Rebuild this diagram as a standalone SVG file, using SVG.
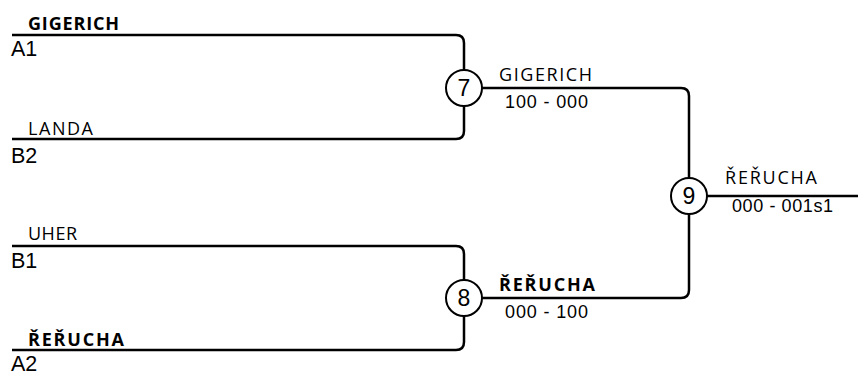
<svg xmlns="http://www.w3.org/2000/svg" width="858" height="377" viewBox="0 0 858 377">
<style>
.ln{fill:none;stroke:#000;stroke-width:2.5;stroke-linejoin:round}
.nd circle{fill:#fff;stroke:#000;stroke-width:2}
.nd text{font-family:"Liberation Sans",Arial,sans-serif;font-size:23px;text-anchor:middle}
.pl{font-family:"Open Sans","Noto Sans",sans-serif;font-size:18px}
.b{font-weight:bold}
.seed{font-family:"Liberation Sans",Arial,sans-serif;font-size:21.5px}
.sc{font-family:"Liberation Sans",Arial,sans-serif;font-size:18px}
</style>
<rect width="858" height="377" fill="#fff"/>
<g id="connectors">
<path class="ln" d="M12,35 H456 Q464,35 464,43 V131 Q464,139 456,139 H12"/>
<path class="ln" d="M12,246 H456 Q464,246 464,254 V342 Q464,350 456,350 H12"/>
<path class="ln" d="M464,88 H681 Q689,88 689,96 V290 Q689,298 681,298 H464"/>
<path class="ln" d="M689,196 H858"/>
</g>
<g id="seeds">
<text class="pl b" x="28" y="30" textLength="91" lengthAdjust="spacing">GIGERICH</text>
<text class="seed" x="11" y="56">A1</text>
<text class="pl" x="28" y="135" textLength="65" lengthAdjust="spacing">LANDA</text>
<text class="seed" x="11" y="163">B2</text>
<text class="pl" x="28" y="240" textLength="49" lengthAdjust="spacing">UHER</text>
<text class="seed" x="11" y="268">B1</text>
<text class="pl b" x="28" y="346" textLength="96" lengthAdjust="spacing">ŘEŘUCHA</text>
<text class="seed" x="11" y="371">A2</text>
</g>
<g id="node7" class="nd"><circle cx="464" cy="88" r="18"/><text x="464" y="96">7</text></g>
<g id="node8" class="nd"><circle cx="464" cy="298" r="18"/><text x="464" y="306">8</text></g>
<g id="node9" class="nd"><circle cx="689" cy="196" r="18"/><text x="689" y="204">9</text></g>
<g id="labels">
<text class="pl" x="499" y="81" textLength="93" lengthAdjust="spacing">GIGERICH</text>
<text class="sc" x="505" y="108" textLength="83" lengthAdjust="spacing">100 - 000</text>
<text class="pl b" x="499" y="291" textLength="96" lengthAdjust="spacing">ŘEŘUCHA</text>
<text class="sc" x="505" y="318" textLength="83" lengthAdjust="spacing">000 - 100</text>
<text class="pl" x="725" y="184" textLength="92" lengthAdjust="spacing">ŘEŘUCHA</text>
<text class="sc" x="732" y="212" textLength="101" lengthAdjust="spacing">000 - 001s1</text>
</g>
</svg>
